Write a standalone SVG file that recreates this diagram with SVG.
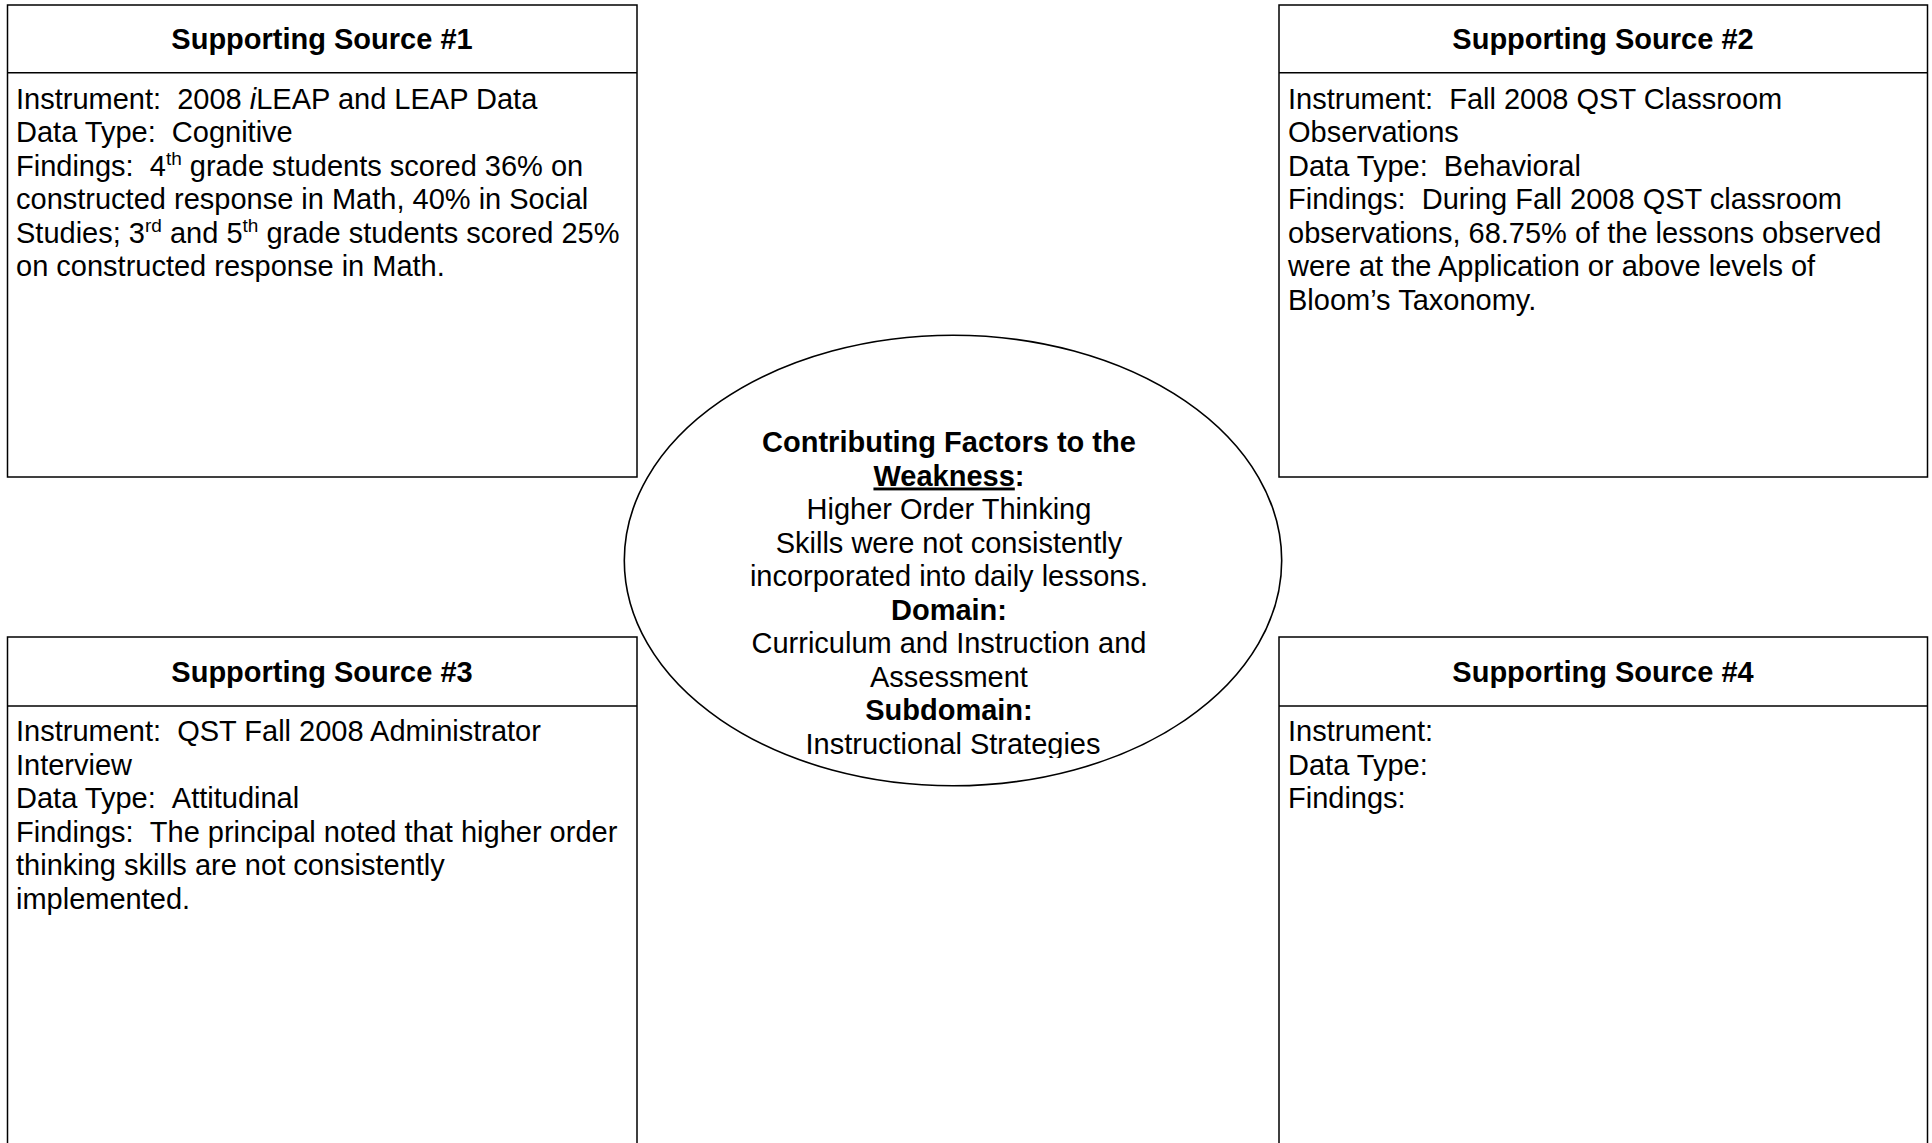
<svg xmlns="http://www.w3.org/2000/svg" width="1932" height="1143" viewBox="0 0 1932 1143">
<style>
.box{fill:#fff;stroke:#000;stroke-width:1.5}
.sep{stroke:#000;stroke-width:1.5}
.hd{font-family:"Liberation Sans",Arial,sans-serif;font-size:29px;font-weight:bold;text-anchor:middle;fill:#000}
.bd{font-family:"Liberation Sans",Arial,sans-serif;font-size:29px;fill:#000}
.ct{font-family:"Liberation Sans",Arial,sans-serif;font-size:29px;text-anchor:middle;fill:#000}
.b{font-weight:bold}
.sup{font-size:19px}
</style>
<defs>
<clipPath id="ellclip"><rect x="600" y="330" width="700" height="428"/></clipPath>
</defs>
<rect width="1932" height="1143" fill="#fff"/>
<g id="source1">
<rect class="box" x="7.5" y="5" width="629.5" height="472"/>
<line class="sep" x1="7.5" y1="72.7" x2="637" y2="72.7"/>
<text class="hd" x="322" y="49">Supporting Source #1</text>
<text class="bd">
<tspan x="16" y="108.5">Instrument: &#160;2008 <tspan font-style="italic">i</tspan>LEAP and LEAP Data</tspan>
<tspan x="16" y="142">Data Type: &#160;Cognitive</tspan>
<tspan x="16" y="175.5">Findings: &#160;4<tspan class="sup" dy="-11">th</tspan><tspan dy="11"> grade students scored 36% on</tspan></tspan>
<tspan x="16" y="209">constructed response in Math, 40% in Social</tspan>
<tspan x="16" y="242.5">Studies; 3<tspan class="sup" dy="-11">rd</tspan><tspan dy="11"> and 5</tspan><tspan class="sup" dy="-11">th</tspan><tspan dy="11"> grade students scored 25%</tspan></tspan>
<tspan x="16" y="276">on constructed response in Math.</tspan>
</text>
</g>
<g id="source2">
<rect class="box" x="1279" y="5" width="648.5" height="472"/>
<line class="sep" x1="1279" y1="72.7" x2="1927.5" y2="72.7"/>
<text class="hd" x="1603" y="49">Supporting Source #2</text>
<text class="bd">
<tspan x="1288" y="108.5">Instrument: &#160;Fall 2008 QST Classroom</tspan>
<tspan x="1288" y="142">Observations</tspan>
<tspan x="1288" y="175.5">Data Type: &#160;Behavioral</tspan>
<tspan x="1288" y="209">Findings: &#160;During Fall 2008 QST classroom</tspan>
<tspan x="1288" y="242.5">observations, 68.75% of the lessons observed</tspan>
<tspan x="1288" y="276">were at the Application or above levels of</tspan>
<tspan x="1288" y="309.5">Bloom’s Taxonomy.</tspan>
</text>
</g>
<g id="source3">
<path class="box" d="M7.5 1150 V637 H637 V1150"/>
<line class="sep" x1="7.5" y1="706" x2="637" y2="706"/>
<text class="hd" x="322" y="682">Supporting Source #3</text>
<text class="bd">
<tspan x="16" y="741">Instrument: &#160;QST Fall 2008 Administrator</tspan>
<tspan x="16" y="774.5">Interview</tspan>
<tspan x="16" y="808">Data Type: &#160;Attitudinal</tspan>
<tspan x="16" y="841.5">Findings: &#160;The principal noted that higher order</tspan>
<tspan x="16" y="875">thinking skills are not consistently</tspan>
<tspan x="16" y="908.5">implemented.</tspan>
</text>
</g>
<g id="source4">
<path class="box" d="M1279 1150 V637 H1927.5 V1150"/>
<line class="sep" x1="1279" y1="706" x2="1927.5" y2="706"/>
<text class="hd" x="1603" y="682">Supporting Source #4</text>
<text class="bd">
<tspan x="1288" y="741">Instrument:</tspan>
<tspan x="1288" y="774.5">Data Type:</tspan>
<tspan x="1288" y="808">Findings:</tspan>
</text>
</g>
<g id="contributing-factors">
<ellipse cx="953" cy="560.5" rx="328.7" ry="225.3" fill="#fff" stroke="#000" stroke-width="1.6"/>
<g clip-path="url(#ellclip)">
<text class="ct">
<tspan x="953" y="452" class="b">Contributing Factors to the</tspan>
<tspan x="953" y="485.5" class="b"><tspan text-decoration="underline">Weakness</tspan>:</tspan>
<tspan x="953" y="519">Higher Order Thinking</tspan>
<tspan x="953" y="552.5">Skills were not consistently</tspan>
<tspan x="953" y="586">incorporated into daily lessons.</tspan>
<tspan x="953" y="619.5" class="b">Domain:</tspan>
<tspan x="953" y="653">Curriculum and Instruction and</tspan>
<tspan x="953" y="686.5">Assessment</tspan>
<tspan x="953" y="720" class="b">Subdomain:</tspan>
<tspan x="953" y="754">Instructional Strategies</tspan>
</text>
</g>
</g>
<g id="connectors"></g>
</svg>
